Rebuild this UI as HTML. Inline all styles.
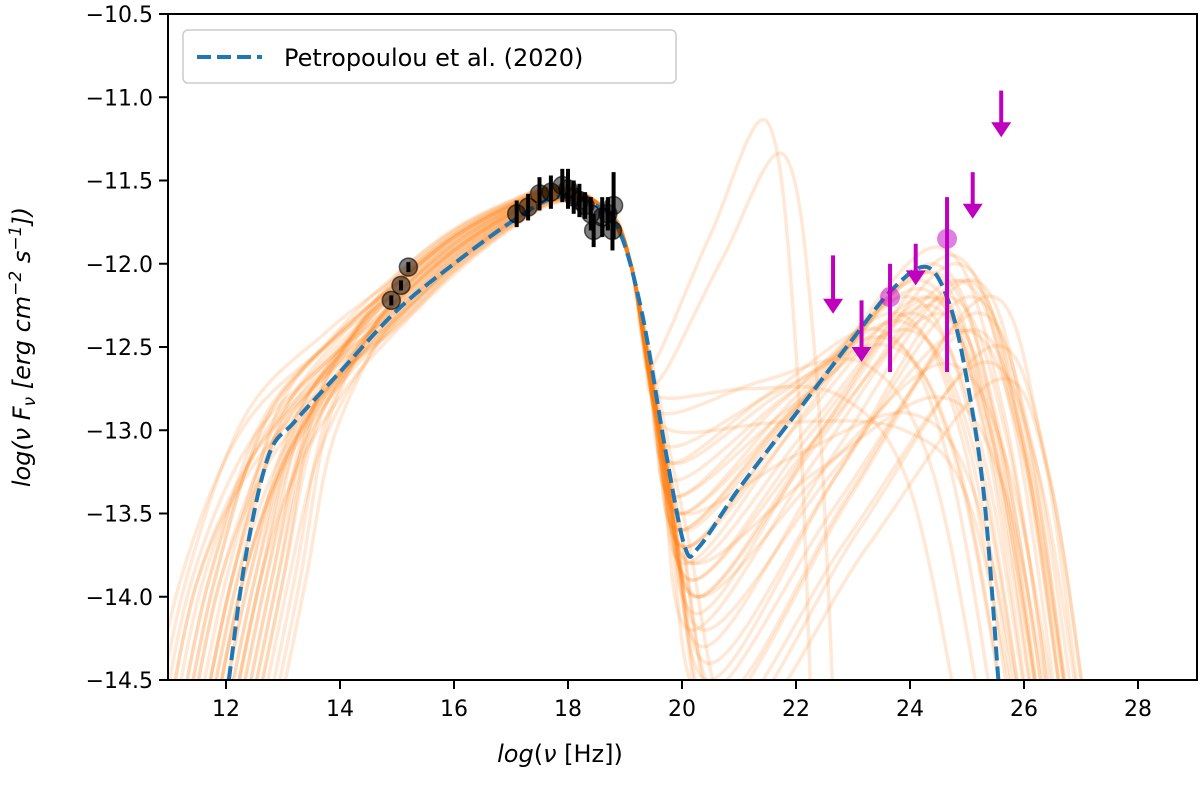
<!DOCTYPE html>
<html><head><meta charset="utf-8"><style>
body{margin:0;background:#fff;width:1200px;height:781px;overflow:hidden}
svg text{font-family:"DejaVu Sans","Liberation Sans",sans-serif;fill:#000}
</style></head><body>
<svg id="chart" width="1200" height="781" viewBox="0 0 1200 781" xmlns="http://www.w3.org/2000/svg">
<defs><clipPath id="plotclip"><rect x="168" y="14" width="1029" height="666"/></clipPath></defs>
<g id="curves" clip-path="url(#plotclip)"></g>
<g id="marks"></g>
<rect x="168" y="14" width="1029" height="666" fill="none" stroke="#000" stroke-width="2"/>
<g id="axes"></g>
<text x="560" y="762" font-size="24" text-anchor="middle"><tspan font-style="italic">log</tspan>(<tspan font-style="italic">ν</tspan> [Hz])</text>
<text transform="translate(30,347) rotate(-90)" font-size="24" text-anchor="middle" font-style="italic">log(ν F<tspan font-size="17" dy="5">ν</tspan><tspan dy="-5"> [erg cm</tspan><tspan font-size="17" dy="-9">−2</tspan><tspan dy="9"> s</tspan><tspan font-size="17" dy="-9">−1</tspan><tspan dy="9">])</tspan></text>
<g>
<rect x="183" y="30" width="493" height="53" rx="5" fill="#fff" fill-opacity="0.85" stroke="#ccc" stroke-width="1.5"/>
<line x1="197" y1="57" x2="262" y2="57" stroke="#1f77b4" stroke-width="4" stroke-dasharray="14,6"/>
<text x="284" y="66" font-size="24">Petropoulou et al. (2020)</text>
</g>
</svg>
<script>
const NS="http://www.w3.org/2000/svg";
// axis data
const xTicks=[12,14,16,18,20,22,24,26,28];
const yTicks=[-10.5,-11.0,-11.5,-12.0,-12.5,-13.0,-13.5,-14.0,-14.5];
// reference model (Petropoulou et al. 2020)
const refX=[12.05,12.35,12.75,13.2,14.0,15.0,16.0,17.0,17.8,18.5,18.9,19.3,19.7,20.05,20.3,21.0,22.0,23.0,23.7,24.3,24.7,25.0,25.3,25.55];
const refY=[-14.5,-13.75,-13.15,-12.95,-12.65,-12.28,-12.0,-11.75,-11.6,-11.65,-11.8,-12.3,-13.1,-13.7,-13.7,-13.35,-12.9,-12.45,-12.15,-12.02,-12.25,-12.7,-13.4,-14.5];
// model sample params: low-end shift, synch y offset, dip x, dip y, IC peak x, IC peak y, cutoff x
const sLow=[-0.9,-0.6,-0.4,-0.2,0,0.2,0.4,0.6,0.8,1.0,1.2,-0.7,-0.3,0.1,0.3,0.5,0.7,0.9,-0.5,-0.1,0.2,0.5,0.8,1.1,-0.8,-0.2,0.0,0.4,0.6,1.3,-0.4,0.1,0.3,0.7,-0.6,0.0,0.5,0.9,-0.3,0.2];
const sOff=[0.05,-0.1,0.1,-0.05,0.0,-0.15,0.08,-0.08,0.12,-0.12,0.03,-0.03,0.1,-0.1,0.05,-0.18,0.0,0.15,-0.06,0.06,-0.12,0.1,-0.02,0.02,0.14,-0.14,0.04,-0.04,0.09,-0.09,0.0,0.12,-0.07,0.07,-0.16,0.16,-0.01,0.01,0.11,-0.11];
const sDipX=[20.0,20.2,19.9,20.4,20.1,20.6,19.8,20.3,20.0,20.8,19.7,20.2,20.5,19.9,20.1,20.3,21.0,19.6,20.2,20.4,19.9,20.0,20.7,20.1,20.3,19.8,20.2,20.5,20.0,19.9,20.6,20.1,19.5,19.6,20.0,20.3,19.8,20.2,20.4,20.1];
const sDipY=[-13.6,-14.2,-13.4,-14.6,-13.8,-14.8,-13.2,-14.0,-13.5,-14.8,-12.9,-13.9,-14.4,-13.3,-13.7,-14.1,-14.8,-12.8,-13.8,-14.3,-13.4,-13.6,-14.6,-13.7,-14.0,-13.1,-13.9,-14.5,-13.5,-13.2,-14.7,-13.6,-12.6,-12.7,-13.5,-14.0,-13.0,-13.8,-14.2,-13.7];
const sPkX=[24.2,24.6,23.8,25.0,24.4,25.2,23.5,24.8,24.0,25.4,23.2,24.5,25.0,23.9,24.3,24.7,25.5,22.8,24.4,24.9,24.0,24.2,25.1,24.5,24.8,23.7,24.3,25.0,24.1,23.6,25.3,24.4,21.5,21.8,24.0,24.6,23.9,24.5,24.9,24.3];
const sPkY=[-12.1,-12.2,-12.3,-12.4,-12.0,-12.6,-12.4,-12.1,-12.2,-12.5,-12.6,-12.3,-12.2,-12.35,-12.05,-11.95,-12.7,-12.8,-12.2,-12.1,-12.4,-12.15,-12.3,-11.9,-12.0,-12.5,-12.25,-12.1,-12.3,-12.45,-12.2,-12.05,-11.15,-11.35,-12.9,-12.6,-13.0,-12.8,-12.4,-12.2];
const sCut=[26.2,26.6,25.9,26.9,26.4,27.1,25.6,26.8,26.1,27.2,25.4,26.5,26.9,26.0,26.3,26.7,27.2,25.0,26.4,26.8,26.1,26.3,27.0,26.6,26.8,25.8,26.4,26.9,26.2,25.8,27.1,26.5,22.3,22.7,26.1,26.7,26.0,26.6,26.9,26.4];
// observed data
const obsX=[14.9,15.07,15.2,17.1,17.3,17.5,17.7,17.9,18.0,18.1,18.2,18.3,18.4,18.45,18.6,18.7,18.8,18.78];
const obsY=[-12.22,-12.13,-12.02,-11.7,-11.66,-11.58,-11.57,-11.53,-11.55,-11.6,-11.62,-11.65,-11.7,-11.8,-11.72,-11.7,-11.65,-11.8];
const obsErr=[0.03,0.03,0.03,0.08,0.08,0.1,0.1,0.1,0.12,0.1,0.1,0.08,0.1,0.1,0.12,0.1,0.2,0.12];
const gX=[23.65,24.65],gY=[-12.2,-11.85],gLo=[-12.65,-12.65],gHi=[-12.0,-11.6];
const ulX=[22.65,23.15,24.1,25.1,25.6],ulTop=[-11.95,-12.22,-11.88,-11.45,-10.96],ulTip=[-12.3,-12.59,-12.13,-11.73,-11.24];

const X=v=>226+(v-12)*57, Y=v=>14+(-10.5-v)/4*666;
function el(tag,attrs,parent){const e=document.createElementNS(NS,tag);for(const k in attrs)e.setAttribute(k,attrs[k]);parent.appendChild(e);return e;}
function smooth(pts){let d=`M${pts[0][0]},${pts[0][1]}`;for(let i=0;i<pts.length-1;i++){const p0=pts[i-1]||pts[i],p1=pts[i],p2=pts[i+1],p3=pts[i+2]||p2;d+=` C${p1[0]+(p2[0]-p0[0])/6},${p1[1]+(p2[1]-p0[1])/6} ${p2[0]-(p3[0]-p1[0])/6},${p2[1]-(p3[1]-p1[1])/6} ${p2[0]},${p2[1]}`;}return d;}
const axes=document.getElementById('axes'),curves=document.getElementById('curves'),marks=document.getElementById('marks');
xTicks.forEach(t=>{const x=X(t);
 const l=el('line',{x1:x,x2:x,y1:680,y2:689,stroke:'#000','stroke-width':2},axes);
 
 
 const tx=el('text',{x:x,y:716,'font-size':22,'text-anchor':'middle'},axes);tx.textContent=t;
 
 });
yTicks.forEach(t=>{const y=Y(t);
 const l=el('line',{x1:159,x2:168,y1:y,y2:y,stroke:'#000','stroke-width':2},axes);
 
 
 const tx=el('text',{x:153,y:y+8,'font-size':22,'text-anchor':'end'},axes);tx.textContent='−'+Math.abs(t).toFixed(1);
 
 });
// model samples
for(let i=0;i<sLow.length;i++){const s=sLow[i],o=sOff[i];
 const base=[[11.5+s,-14.9],[12.1+s,-13.9],[12.9+s*0.7,-13.05+o],[14.0+s*0.3,-12.55+o],[15.0,-12.22+o],[16.0,-11.92+o*0.8],[17.0,-11.7+o*0.5],[17.8,-11.58+o*0.3],[18.6,-11.66],[19.1,-12.0]];
 const dx=sDipX[i],dy=sDipY[i],px=sPkX[i],py=sPkY[i],cx=sCut[i];
 const pts=base.concat([[(19.1+dx)/2,(-12.0+dy)/2-0.15],[dx,dy],[(dx+px)/2,(dy+py)/2+0.05],[px,py],[(px+cx)/2+0.1,(py-14.6)/2+0.35],[cx,-15.0]]).map(p=>[X(p[0]),Y(p[1])]);
 const p=el('path',{d:smooth(pts),fill:'none',stroke:'#ff7f0e','stroke-opacity':0.17,'stroke-width':3.5},curves);
 
 }
const ref=el('path',{d:smooth(refX.map((v,i)=>[X(v),Y(refY[i])])),fill:'none',stroke:'#1f77b4','stroke-width':4,'stroke-dasharray':'14,6'},curves);


// observations
obsX.forEach((v,i)=>{const x=X(v);
 const e=el('line',{x1:x,x2:x,y1:Y(obsY[i]+obsErr[i]),y2:Y(obsY[i]-obsErr[i]),stroke:'#000','stroke-width':4},marks);
 
 
 const c=el('circle',{cx:x,cy:Y(obsY[i]),r:9,fill:'#000','fill-opacity':0.5,stroke:'#000','stroke-opacity':0.6,'stroke-width':1.5},marks);
 
 });
gX.forEach((v,i)=>{const x=X(v);
 const e=el('line',{x1:x,x2:x,y1:Y(gHi[i]),y2:Y(gLo[i]),stroke:'#bf00bf','stroke-width':4},marks);
 
 
 const c=el('circle',{cx:x,cy:Y(gY[i]),r:10,fill:'#bf00bf','fill-opacity':0.5},marks);
 
 });
ulX.forEach((v,i)=>{const x=X(v),y0=Y(ulTop[i]),y1=Y(ulTip[i]);
 const l=el('line',{x1:x,x2:x,y1:y0,y2:y1-12,stroke:'#bf00bf','stroke-width':4},marks);
 
 
 const a=el('polygon',{points:`${x-10},${y1-15} ${x+10},${y1-15} ${x},${y1}`,fill:'#bf00bf'},marks);
 
 });
</script>
</body></html>
